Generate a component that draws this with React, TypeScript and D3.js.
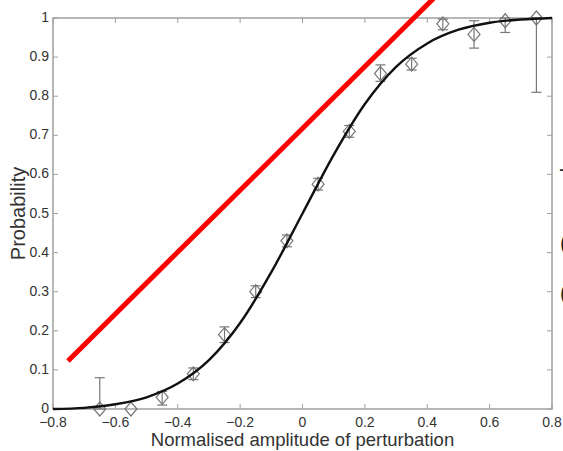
import React, { useEffect, useRef } from "react";
import * as d3 from "d3";

// observed points (amplitude, probability, error)
const amps = [-0.65, -0.55, -0.45, -0.35, -0.25, -0.15, -0.05, 0.05, 0.15, 0.25, 0.35, 0.45, 0.55, 0.65, 0.75];
const probs = [0.0, 0.0, 0.03, 0.09, 0.19, 0.3, 0.43, 0.575, 0.71, 0.858, 0.882, 0.985, 0.958, 0.993, 1.0];
const errLow = [0.0, 0.0, 0.02, 0.015, 0.02, 0.015, 0.015, 0.015, 0.015, 0.02, 0.015, 0.015, 0.035, 0.03, 0.19];
const errHigh = [0.08, 0.0, 0.015, 0.015, 0.02, 0.015, 0.015, 0.015, 0.015, 0.022, 0.015, 0.012, 0.035, 0.007, 0.0];

// fitted curve
const fitX = [-0.8, -0.7, -0.6, -0.5, -0.4, -0.3, -0.2, -0.1, 0, 0.1, 0.2, 0.3, 0.4, 0.5, 0.6, 0.7, 0.8];
const fitY = [0.0, 0.003, 0.012, 0.03, 0.065, 0.125, 0.22, 0.35, 0.5, 0.65, 0.78, 0.875, 0.935, 0.97, 0.988, 0.996, 1.0];

// red overlay line
const redX = [-0.752, 0.42];
const redY = [0.123, 1.05];

const xTicks = [-0.8, -0.6, -0.4, -0.2, 0, 0.2, 0.4, 0.6, 0.8];
const yTicks = [0, 0.1, 0.2, 0.3, 0.4, 0.5, 0.6, 0.7, 0.8, 0.9, 1];

const W = 563;
const H = 451;

export default function App() {
  const ref = useRef<SVGSVGElement>(null);

  useEffect(() => {
    const svg = d3.select(ref.current);
    svg.selectAll("*").remove();

    const x = d3.scaleLinear().domain([-0.8, 0.8]).range([53, 552]);
    const y = d3.scaleLinear().domain([0, 1]).range([409, 18]);
    const axisCol = "#a0a0a0";
    const font = "Liberation Sans, Arial, sans-serif";

    // frame
    svg.append("rect")
      .attr("x", x(-0.8)).attr("y", y(1))
      .attr("width", x(0.8) - x(-0.8)).attr("height", y(0) - y(1))
      .attr("fill", "none").attr("stroke", axisCol).attr("stroke-width", 1.5);

    // ticks
    const tk = svg.append("g").attr("stroke", axisCol).attr("stroke-width", 1);
    xTicks.forEach((t) => {
      tk.append("line").attr("x1", x(t)).attr("x2", x(t)).attr("y1", y(0)).attr("y2", y(0) - 5);
      tk.append("line").attr("x1", x(t)).attr("x2", x(t)).attr("y1", y(1)).attr("y2", y(1) + 5);
    });
    yTicks.forEach((t) => {
      tk.append("line").attr("x1", x(-0.8)).attr("x2", x(-0.8) + 5).attr("y1", y(t)).attr("y2", y(t));
      tk.append("line").attr("x1", x(0.8)).attr("x2", x(0.8) - 5).attr("y1", y(t)).attr("y2", y(t));
    });

    const fmt = (v: number) => (v === 0 ? "0" : v === 1 ? "1" : d3.format(".1f")(v).replace("-", "\u2212"));

    svg.append("g").selectAll("text").data(xTicks).join("text")
      .attr("x", (d) => x(d)).attr("y", y(0) + 17.5)
      .attr("text-anchor", "middle")
      .attr("font-family", font).attr("font-size", 14).attr("fill", "#333")
      .text(fmt);

    svg.append("g").selectAll("text").data(yTicks).join("text")
      .attr("x", x(-0.8) - 4).attr("y", (d) => y(d) + 4)
      .attr("text-anchor", "end")
      .attr("font-family", font).attr("font-size", 14).attr("fill", "#333")
      .text(fmt);

    svg.append("text")
      .attr("transform", `translate(25,${(y(0) + y(1)) / 2}) rotate(-90)`)
      .attr("text-anchor", "middle")
      .attr("font-family", font).attr("font-size", 20).attr("fill", "#333")
      .text("Probability");

    svg.append("text")
      .attr("x", (x(-0.8) + x(0.8)) / 2).attr("y", 446)
      .attr("text-anchor", "middle")
      .attr("font-family", font).attr("font-size", 18.5).attr("fill", "#333")
      .text("Normalised amplitude of perturbation");

    // error bars
    const eb = svg.append("g").attr("stroke", "#777").attr("stroke-width", 1.2);
    amps.forEach((a, i) => {
      const lo = probs[i] - errLow[i];
      const hi = probs[i] + errHigh[i];
      if (hi - lo <= 0) return;
      eb.append("line").attr("x1", x(a)).attr("x2", x(a)).attr("y1", y(lo)).attr("y2", y(hi));
      eb.append("line").attr("x1", x(a) - 5).attr("x2", x(a) + 5).attr("y1", y(lo)).attr("y2", y(lo));
      eb.append("line").attr("x1", x(a) - 5).attr("x2", x(a) + 5).attr("y1", y(hi)).attr("y2", y(hi));
    });

    // diamonds
    svg.append("g").selectAll("path").data(amps).join("path")
      .attr("d", (a, i) => {
        const cx = x(a), cy = y(probs[i]);
        return `M${cx},${cy - 7}L${cx + 6},${cy}L${cx},${cy + 7}L${cx - 6},${cy}Z`;
      })
      .attr("fill", "none").attr("stroke", "#777").attr("stroke-width", 1.2);

    // fitted curve
    const line = d3.line<number>()
      .x((d) => x(d))
      .y((_, i) => y(fitY[i]))
      .curve(d3.curveMonotoneX);
    svg.append("path").attr("d", line(fitX))
      .attr("fill", "none").attr("stroke", "#111").attr("stroke-width", 2.4);

    // red line
    svg.append("line")
      .attr("x1", x(redX[0])).attr("y1", y(redY[0]))
      .attr("x2", x(redX[1])).attr("y2", y(redY[1]))
      .attr("stroke", "#f00").attr("stroke-width", 5);

    // cut-off text at the right edge (as in the reference crop)
    const edge = svg.append("g").attr("font-family", font).attr("font-size", 22).attr("fill", "#222");
    edge.append("text").attr("x", 559).attr("y", 176).text("-");
    edge.append("text").attr("x", 560).attr("y", 250).text("(");
    edge.append("text").attr("x", 560).attr("y", 300).text("(");
  }, []);

  return (
    <svg
      ref={ref}
      width={W}
      height={H}
      style={{ position: "absolute", left: 0, top: 0, background: "#fff" }}
    />
  );
}
